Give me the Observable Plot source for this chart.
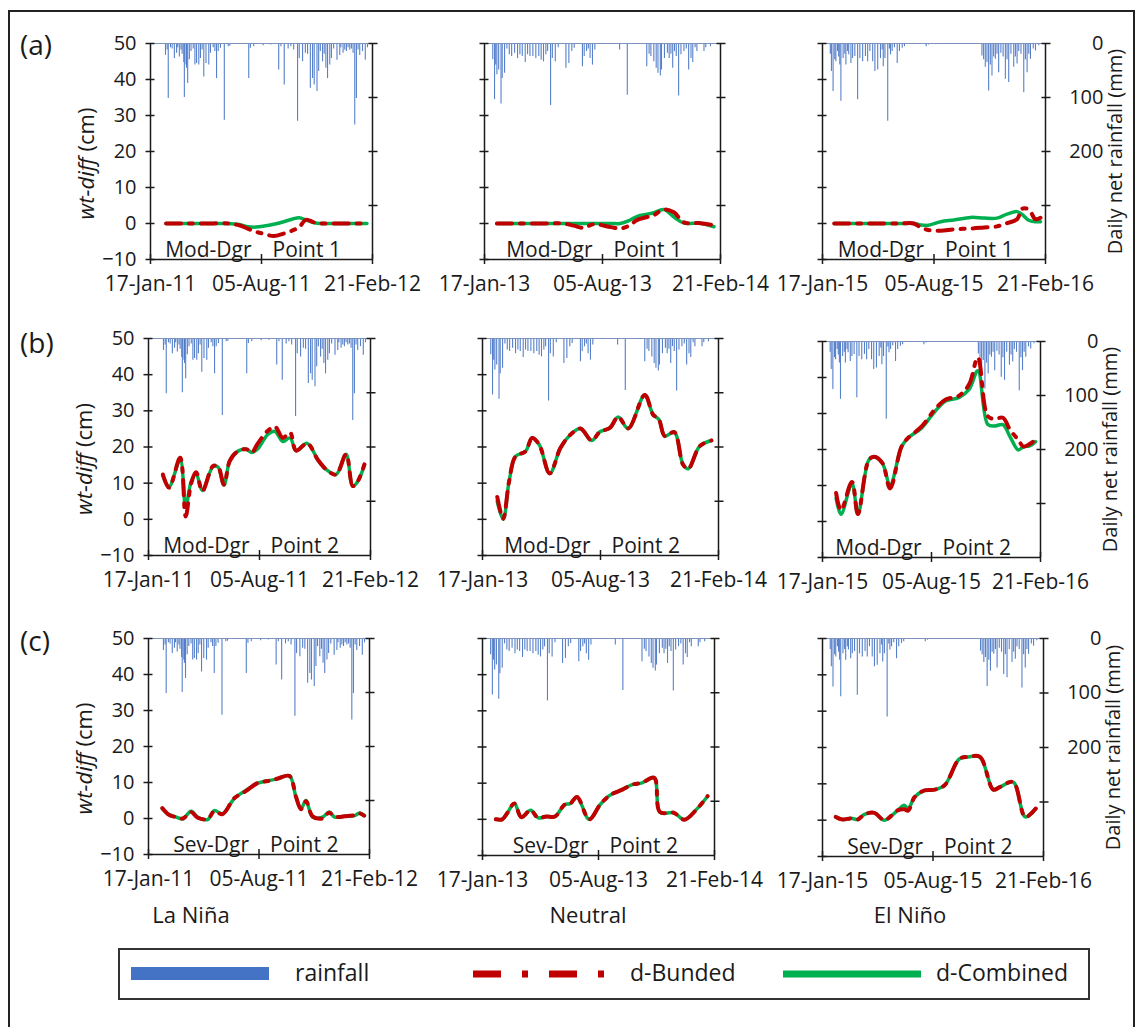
<!DOCTYPE html>
<html>
<head>
<meta charset="utf-8">
<script src="https://cdn.jsdelivr.net/npm/d3@7"></script>
<script src="https://cdn.jsdelivr.net/npm/@observablehq/plot@0.6"></script>
<style>
  body { margin: 0; background: #fff; font-family: "Open Sans", sans-serif; color: #1a1a1a; }
  #fig { position: relative; width: 1143px; height: 1027px; overflow: hidden; background: #fff; }
  .frame { position: absolute; left: 8px; top: 10px; width: 1127px; height: 1040px; border: 2px solid #222; box-sizing: border-box; }
  .abs { position: absolute; white-space: nowrap; line-height: 1; }
  .letter { font-size: 28px; }
  .season { font-size: 22px; transform: translateX(-50%); }
  .legend { position: absolute; left: 118px; top: 948px; width: 972px; height: 52px; border: 2px solid #333; box-sizing: border-box; }
  .legend .lbl { font-size: 23px; top: 11px; }
</style>
</head>
<body>
<div id="fig">
  <div class="frame"></div>
</div>
<script>
// ENSO seasons (columns) and sites (rows)
const seasons = ["La Niña", "Neutral", "El Niño"];
const seasonStart = ["2011-01-17", "2013-01-17", "2015-01-17"];
const rowLetters = ["(a)", "(b)", "(c)"];
const rowSite = ["Mod-Dgr", "Mod-Dgr", "Sev-Dgr"];
const rowPoint = ["Point 1", "Point 2", "Point 2"];
const rainTicks = [0, 100, 200, 300];
const wtTicks = [-10, 0, 10, 20, 30, 40, 50];

// Daily net rainfall (mm): [days after season start, mm]
const rainLaNina = [[27,22],[30,12],[32,102],[36,8],[39,10],[43,28],[47,18],[49,8],[52,25],[55,12],[57,20],[60,35],[61,100],[64,40],[65,46],[67,74],[70,30],[73,15],[77,10],[80,40],[83,37],[87,40],[90,28],[93,12],[96,62],[100,37],[105,40],[108,18],[113,8],[116,15],[119,65],[122,15],[126,9],[133,142],[140,6],[143,5],[177,65],[180,9],[186,6],[203,4],[217,3],[231,49],[235,6],[241,77],[248,10],[253,6],[258,12],[265,144],[268,28],[274,34],[279,18],[283,20],[288,83],[292,65],[295,77],[300,89],[303,52],[306,15],[310,34],[313,20],[316,46],[319,65],[323,40],[326,28],[330,10],[336,31],[341,22],[343,8],[347,18],[350,12],[353,15],[356,8],[359,12],[362,10],[365,18],[368,151],[371,102],[374,12],[377,22],[382,15],[387,31],[391,8]];
const rainNeutral = [[14,30],[17,104],[19,40],[21,58],[24,49],[28,112],[30,65],[34,55],[38,10],[42,21],[46,24],[51,18],[56,28],[60,21],[64,24],[69,35],[73,21],[77,24],[82,24],[87,28],[92,24],[96,31],[100,34],[104,21],[107,15],[112,115],[115,28],[120,34],[125,8],[138,46],[143,37],[148,15],[152,9],[166,43],[169,24],[173,15],[176,10],[179,28],[183,40],[187,12],[229,12],[242,96],[275,43],[279,20],[282,24],[287,34],[291,46],[294,55],[298,60],[300,49],[305,28],[310,18],[313,28],[316,20],[319,46],[322,15],[325,24],[329,97],[333,21],[338,15],[342,10],[346,49],[350,28],[353,35],[357,8],[360,15],[372,15],[375,8],[383,6]];
const rainElNino = [[14,20],[16,52],[19,89],[22,30],[24,34],[27,15],[29,25],[31,40],[33,107],[37,28],[40,20],[42,40],[45,15],[47,21],[51,37],[54,28],[58,24],[63,104],[67,28],[72,34],[77,24],[81,34],[85,15],[90,34],[94,52],[99,49],[104,28],[107,12],[109,43],[112,28],[117,144],[120,10],[122,21],[125,15],[129,8],[134,37],[138,15],[143,9],[147,6],[186,6],[190,3],[286,23],[289,30],[292,44],[295,35],[298,88],[301,40],[304,60],[307,25],[310,29],[313,20],[316,54],[320,18],[324,25],[328,66],[331,30],[334,72],[338,20],[343,44],[346,25],[349,38],[352,15],[356,20],[361,91],[364,30],[367,54],[370,20],[373,29],[378,10],[382,14],[388,4]];
const rainfall = [rainLaNina, rainNeutral, rainElNino];

// wt-diff (cm): measurement days after season start, d-Bunded and d-Combined
const a1Day = [28,60,100,140,160,176,190,205,222,240,255,268,280,295,310,340,370,390];
const a1Bunded = [0,0,0,0,-0.5,-1.5,-2.3,-2.9,-3.5,-2.8,-2.0,-1.0,1.0,0.3,0,0,0,0];
const a1Combined = [0,0,0,0,-0.3,-0.9,-1.0,-0.7,-0.2,0.5,1.2,1.6,1.0,0.2,0,0,0,0];

const a2Day = [21,50,78,106,134,151,168,185,214,230,245,259,276,287,304,321,338,366,389];
const a2Bunded = [0,0,0,0,0,-0.6,-1.2,-0.2,-1.0,-1.4,-0.6,1.0,1.8,2.3,3.9,3.1,0.3,0.1,-0.5];
const a2Combined = [0,0,0,0,0,0,0,0,0,0,0.8,2.0,2.6,3.0,3.9,1.8,0.1,0.1,-0.9];

const a3Day = [21,60,100,140,164,176,190,212,236,266,290,313,331,349,358,370,382,391];
const a3Bunded = [0,0,0,0,0,-1.1,-1.8,-2.0,-1.6,-1.4,-1.1,-0.8,0.1,1.2,4.1,3.9,1.2,1.6];
const a3Combined = [0,0,0,0,0,-0.4,-0.5,0.5,1.0,1.7,1.5,1.5,2.6,3.3,2.5,0.9,0.5,0.5];

const b1Day = [26,37,57,67,77,86,97,116,125,136,146,158,176,186,197,215,228,242,255,266,286,305,320,338,356,368,377,389];
const b1Bunded = [12.4,8.7,17.0,0.8,10.0,13.0,7.8,14.7,14.7,9.6,16.0,18.5,19.4,18.5,21.0,24.5,25.6,22.5,24.0,19.0,21.0,16.5,13.8,12.4,18.0,9.2,10.5,15.2];
const b1Combined = [12.0,9.0,16.5,3.5,10.5,12.5,8.0,14.5,14.5,9.5,16.0,18.5,19.4,18.5,19.5,23.5,24.3,21.5,22.5,19.0,21.0,16.5,13.8,12.4,18.0,9.2,10.5,15.0];

const b2Day = [25,35,45,56,73,84,96,114,132,149,166,185,199,216,230,247,275,289,299,309,325,340,349,368,388];
const b2Bunded = [6.2,0.2,10.4,17.4,18.8,22.5,20.7,12.7,19.7,23.4,25.1,21.8,24.2,25.3,28.3,25.1,34.4,29.0,27.6,23.0,24.1,15.1,14.0,20.2,21.8];
const b2Combined = [5.0,0.0,10.4,17.4,18.8,22.5,20.7,12.7,19.7,23.4,25.1,21.8,24.2,25.3,28.3,25.1,34.4,29.0,27.6,23.0,24.1,15.1,14.0,20.2,21.8];

const b3Day = [25,34,54,65,85,95,110,124,145,157,182,207,226,250,269,285,303,315,331,344,359,369,380,391];
const b3Bunded = [7.9,3.1,11.0,2.1,17.1,18.0,16.2,9.2,20.8,23.2,26.4,31.3,33.9,34.9,38.1,45.6,29.3,28.5,28.8,25.5,22.7,20.8,21.5,22.7];
const b3Combined = [6.5,2.0,10.6,2.1,17.1,18.0,16.2,10.1,20.8,23.2,26.0,30.7,33.5,34.4,36.7,41.9,27.0,26.5,26.9,23.6,19.9,20.8,21.0,22.2];

const c1Day = [25,37,47,62,77,89,107,119,134,155,176,198,216,234,255,267,276,285,297,315,327,337,355,373,382,391];
const c1Bunded = [2.9,1.0,0.5,0.0,1.8,0.2,-0.2,2.0,1.2,5.6,7.6,9.9,10.4,11.1,11.8,6.0,2.6,4.8,0.6,0.0,1.6,0.5,0.6,0.9,1.4,0.7];
const c1Combined = [2.7,1.1,0.6,-0.1,2.0,0.4,-0.3,2.2,1.3,5.5,7.8,9.8,10.5,11.0,11.9,5.9,2.7,5.0,0.4,0.4,1.8,0.4,0.6,0.8,1.5,0.8];

const c2Day = [23,34,43,55,67,83,96,110,125,142,151,163,184,203,220,241,258,275,296,306,330,348,371,388];
const c2Bunded = [0,0,1.8,4.4,0.6,2.5,0.4,0.8,0.8,4.1,4.3,6.2,0,4.1,6.7,8.2,9.6,10.1,11.5,2.0,1.8,-0.1,3.1,6.4];
const c2Combined = [0,0,1.8,4.4,0.6,2.5,0.4,0.8,0.8,4.1,4.3,6.2,0,4.1,6.7,8.2,9.6,10.1,11.5,2.0,1.8,-0.1,3.1,6.4];

const c3Day = [24,36,52,64,76,94,112,136,148,155,167,185,203,221,248,264,285,309,321,345,367,386];
const c3Bunded = [0.9,0.2,0.5,0.2,1.6,2.0,0.0,2.7,3.0,2.6,6.4,8.2,8.4,9.6,16.9,17.4,17.4,8.4,9.1,10.5,0.9,3.2];
const c3Combined = [0.9,0.2,0.5,0.2,1.6,2.0,0.0,2.7,4.1,3.2,6.4,8.2,8.4,9.6,16.9,17.4,17.4,8.4,9.1,10.5,0.9,3.2];

const series = [
  [[a1Day, a1Bunded, a1Combined], [a2Day, a2Bunded, a2Combined], [a3Day, a3Bunded, a3Combined]],
  [[b1Day, b1Bunded, b1Combined], [b2Day, b2Bunded, b2Combined], [b3Day, b3Bunded, b3Combined]],
  [[c1Day, c1Bunded, c1Combined], [c2Day, c2Bunded, c2Combined], [c3Day, c3Bunded, c3Combined]]
];

// Page layout of each panel's plot frame: [left, top, width, height]
const frames = [
  [[150, 43, 222, 216], [484, 43, 236, 216], [822, 43, 223, 216]],
  [[148, 338, 222, 217], [482, 338, 236, 217], [822, 341, 218, 216]],
  [[148, 638, 221, 216], [482, 638, 232, 217], [822, 638, 221, 218]]
];

const COLORS = {rain: "#4472c4", bunded: "#c00000", combined: "#00b050", ink: "#1a1a1a"};
const ML = 90, MR = 95, MT = 14, MB = 50;
const fmtDate = d3.utcFormat("%d-%b-%y");
const RAIN_MAX = 400; // rainfall axis spans 0 (top) to 400 mm (bottom)
const rainToWt = mm => 50 - mm * 60 / RAIN_MAX;

const fig = document.getElementById("fig");

for (let row = 0; row < 3; row++) {
  for (let col = 0; col < 3; col++) {
    const [left, top, w, h] = frames[row][col];
    const start = new Date(seasonStart[col] + "T00:00:00Z");
    const at = d => d3.utcDay.offset(start, d);
    const mid = at(200), end = at(400);
    const rain = rainfall[col].map(([d, mm]) => ({date: at(d), mm}));
    const [days, bunded, combined] = series[row][col];
    const obs = days.map((d, i) => ({date: at(d), bunded: bunded[i], combined: combined[i]}));

    const marks = [
      Plot.ruleX(rain, {x: "date", y1: 50, y2: d => rainToWt(d.mm), stroke: COLORS.rain, strokeWidth: 1.1, strokeOpacity: 0.9}),
      Plot.ruleY([50], {stroke: "#7d93bd", strokeWidth: 1.2}),
      Plot.line(obs, {x: "date", y: "combined", stroke: COLORS.combined, strokeWidth: 3.5, curve: "catmull-rom"}),
      Plot.line(obs, {x: "date", y: "bunded", stroke: COLORS.bunded, strokeWidth: 4, strokeDasharray: "15,8,4,8", curve: "catmull-rom"}),
      Plot.ruleX([start, end], {stroke: COLORS.ink, strokeWidth: 1.5}),
      Plot.ruleY([-10], {stroke: COLORS.ink, strokeWidth: 1.5}),
      // cross-style tick marks on all three axes
      Plot.axisY({anchor: "left", ticks: wtTicks, tickSize: 9, dx: 4.5, fill: "none", stroke: COLORS.ink, strokeWidth: 1.5, label: null}),
      Plot.axisY({anchor: "right", ticks: rainTicks.map(rainToWt), tickSize: 9, dx: -4.5, fill: "none", stroke: COLORS.ink, strokeWidth: 1.5, label: null}),
      Plot.axisX({anchor: "bottom", ticks: [start, mid, end], tickSize: 10, dy: -5, fill: "none", stroke: COLORS.ink, strokeWidth: 1.5, label: null}),
      Plot.axisX({anchor: "bottom", ticks: [start, mid, end], tickSize: 0, tickPadding: 17, tickFormat: fmtDate, fontSize: 21, label: null}),
      Plot.text([rowSite[row]], {x: mid, y: -10, text: d => d, dx: -10, dy: -3, textAnchor: "end", lineAnchor: "bottom", fontSize: 21}),
      Plot.text([rowPoint[row]], {x: mid, y: -10, text: d => d, dx: 11, dy: -3, textAnchor: "start", lineAnchor: "bottom", fontSize: 21})
    ];
    if (col === 0) {
      marks.push(
        Plot.axisY({anchor: "left", ticks: wtTicks, tickSize: 0, tickPadding: 14, fontSize: 20, label: null}),
        Plot.text(["wt-diff"], {text: d => d, frameAnchor: "left", dx: -64, dy: 6, rotate: -90, textAnchor: "end", fontStyle: "italic", fontSize: 22}),
        Plot.text(["(cm)"], {text: d => d, frameAnchor: "left", dx: -64, dy: 0, rotate: -90, textAnchor: "start", fontSize: 22})
      );
    }
    if (col === 2) {
      marks.push(
        Plot.axisY({anchor: "right", ticks: rainTicks.slice(0, 3).map(rainToWt), tickSize: 0, tickPadding: 58, textAnchor: "end",
          tickFormat: v => String(Math.round((50 - v) * RAIN_MAX / 60)), fontSize: 20, label: null}),
        Plot.text(["Daily net rainfall (mm)"], {text: d => d, frameAnchor: "right", dx: 70, rotate: -90, textAnchor: "middle", fontSize: 20})
      );
    }

    const chart = Plot.plot({
      width: w + ML + MR,
      height: h + MT + MB,
      marginLeft: ML, marginRight: MR, marginTop: MT, marginBottom: MB,
      style: {background: "transparent", overflow: "visible", fontFamily: "'Open Sans', sans-serif", fontSize: "19px", color: COLORS.ink},
      x: {type: "utc", domain: [start, end]},
      y: {domain: [-10, 50]},
      marks
    });
    chart.style.position = "absolute";
    chart.style.left = (left - ML) + "px";
    chart.style.top = (top - MT) + "px";
    fig.appendChild(chart);
  }
}

// Row letters
const letterTops = [30, 328, 626];
rowLetters.forEach((t, i) => {
  const el = document.createElement("div");
  el.className = "abs letter";
  el.style.left = "20px";
  el.style.top = letterTops[i] + "px";
  el.textContent = t;
  fig.appendChild(el);
});

// Season names under each column
const seasonCenters = [191, 588, 910];
seasons.forEach((t, i) => {
  const el = document.createElement("div");
  el.className = "abs season";
  el.style.left = seasonCenters[i] + "px";
  el.style.top = "903px";
  el.textContent = t;
  fig.appendChild(el);
});

// Legend
const legend = document.createElement("div");
legend.className = "legend";
legend.innerHTML = `
  <svg class="abs" style="left:11px;top:17px" width="140" height="14"><rect x="0" y="0" width="138" height="13" fill="${COLORS.rain}"/></svg>
  <div class="abs lbl" style="left:175px">rainfall</div>
  <svg class="abs" style="left:353px;top:19px" width="140" height="10"><line x1="0" y1="5" x2="138" y2="5" stroke="${COLORS.bunded}" stroke-width="7" stroke-dasharray="28,21,6,21"/></svg>
  <div class="abs lbl" style="left:510px">d-Bunded</div>
  <svg class="abs" style="left:663px;top:19px" width="140" height="10"><line x1="0" y1="5" x2="138" y2="5" stroke="${COLORS.combined}" stroke-width="7"/></svg>
  <div class="abs lbl" style="left:816px">d-Combined</div>`;
fig.appendChild(legend);
</script>
</body>
</html>
